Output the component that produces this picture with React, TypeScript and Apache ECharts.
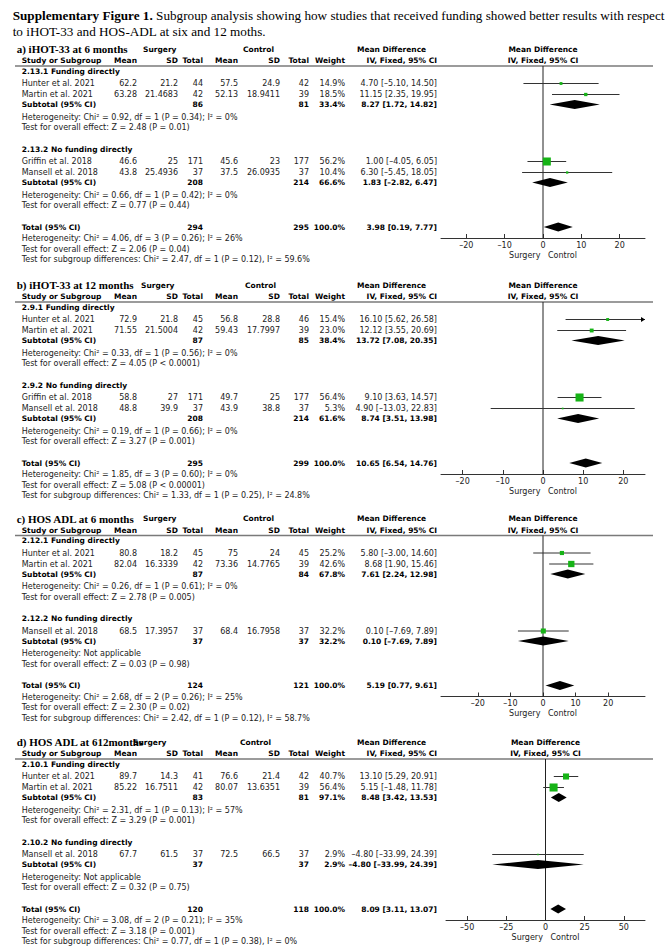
import React, { useEffect, useRef } from "react";
import * as echarts from "echarts";

// ---------- DATA ----------
type Study = [string, number, number, number, number, number, number, number, number, number, number, number];
// name, group, surgery mean, surgery SD, surgery N, control mean, control SD, control N, weight %, MD, lower, upper
type Summary = [number, number, number, number, number, number];
// surgery N, control N, weight %, MD, lower, upper

const titleLine1Bold = "Supplementary Figure 1.";
const titleLine1 = " Subgroup analysis showing how studies that received funding showed better results with respect";
const titleLine2 = "to iHOT-33 and HOS-ADL at six and 12 moths.";

const panelTitles = ["a) iHOT-33 at 6 months", "b) iHOT-33 at 12 months", "c) HOS ADL at 6 months", "d) HOS ADL at 612months"];

const groupNamesA = ["2.13.1 Funding directly", "2.13.2 No funding directly"];
const groupNamesB = ["2.9.1 Funding directly", "2.9.2 No funding directly"];
const groupNamesC = ["2.12.1 Funding directly", "2.12.2 No funding directly"];
const groupNamesD = ["2.10.1 Funding directly", "2.10.2 No funding directly"];

const studiesA: Study[] = [
  ["Hunter et al. 2021", 0, 62.2, 21.2, 44, 57.5, 24.9, 42, 14.9, 4.7, -5.1, 14.5],
  ["Martin et al. 2021", 0, 63.28, 21.4683, 42, 52.13, 18.9411, 39, 18.5, 11.15, 2.35, 19.95],
  ["Griffin et al. 2018", 1, 46.6, 25, 171, 45.6, 23, 177, 56.2, 1.0, -4.05, 6.05],
  ["Mansell et al. 2018", 1, 43.8, 25.4936, 37, 37.5, 26.0935, 37, 10.4, 6.3, -5.45, 18.05],
];
const subtotalsA: Summary[] = [[86, 81, 33.4, 8.27, 1.72, 14.82], [208, 214, 66.6, 1.83, -2.82, 6.47]];
const groupStatsA = [
  ["Heterogeneity: Chi² = 0.92, df = 1 (P = 0.34); I² = 0%", "Test for overall effect: Z = 2.48 (P = 0.01)"],
  ["Heterogeneity: Chi² = 0.66, df = 1 (P = 0.42); I² = 0%", "Test for overall effect: Z = 0.77 (P = 0.44)"],
];
const totalA: Summary = [294, 295, 100, 3.98, 0.19, 7.77];
const totalStatsA = [
  "Heterogeneity: Chi² = 4.06, df = 3 (P = 0.26); I² = 26%",
  "Test for overall effect: Z = 2.06 (P = 0.04)",
  "Test for subgroup differences: Chi² = 2.47, df = 1 (P = 0.12), I² = 59.6%",
];
const ticksA = [-20, -10, 0, 10, 20];

const studiesB: Study[] = [
  ["Hunter et al. 2021", 0, 72.9, 21.8, 45, 56.8, 28.8, 46, 15.4, 16.1, 5.62, 26.58],
  ["Martin et al. 2021", 0, 71.55, 21.5004, 42, 59.43, 17.7997, 39, 23.0, 12.12, 3.55, 20.69],
  ["Griffin et al. 2018", 1, 58.8, 27, 171, 49.7, 25, 177, 56.4, 9.1, 3.63, 14.57],
  ["Mansell et al. 2018", 1, 48.8, 39.9, 37, 43.9, 38.8, 37, 5.3, 4.9, -13.03, 22.83],
];
const subtotalsB: Summary[] = [[87, 85, 38.4, 13.72, 7.08, 20.35], [208, 214, 61.6, 8.74, 3.51, 13.98]];
const groupStatsB = [
  ["Heterogeneity: Chi² = 0.33, df = 1 (P = 0.56); I² = 0%", "Test for overall effect: Z = 4.05 (P < 0.0001)"],
  ["Heterogeneity: Chi² = 0.19, df = 1 (P = 0.66); I² = 0%", "Test for overall effect: Z = 3.27 (P = 0.001)"],
];
const totalB: Summary = [295, 299, 100, 10.65, 6.54, 14.76];
const totalStatsB = [
  "Heterogeneity: Chi² = 1.85, df = 3 (P = 0.60); I² = 0%",
  "Test for overall effect: Z = 5.08 (P < 0.00001)",
  "Test for subgroup differences: Chi² = 1.33, df = 1 (P = 0.25), I² = 24.8%",
];
const ticksB = [-20, -10, 0, 10, 20];

const studiesC: Study[] = [
  ["Hunter et al. 2021", 0, 80.8, 18.2, 45, 75, 24, 45, 25.2, 5.8, -3.0, 14.6],
  ["Martin et al. 2021", 0, 82.04, 16.3339, 42, 73.36, 14.7765, 39, 42.6, 8.68, 1.9, 15.46],
  ["Mansell et al. 2018", 1, 68.5, 17.3957, 37, 68.4, 16.7958, 37, 32.2, 0.1, -7.69, 7.89],
];
const subtotalsC: Summary[] = [[87, 84, 67.8, 7.61, 2.24, 12.98], [37, 37, 32.2, 0.1, -7.69, 7.89]];
const groupStatsC = [
  ["Heterogeneity: Chi² = 0.26, df = 1 (P = 0.61); I² = 0%", "Test for overall effect: Z = 2.78 (P = 0.005)"],
  ["Heterogeneity: Not applicable", "Test for overall effect: Z = 0.03 (P = 0.98)"],
];
const totalC: Summary = [124, 121, 100, 5.19, 0.77, 9.61];
const totalStatsC = [
  "Heterogeneity: Chi² = 2.68, df = 2 (P = 0.26); I² = 25%",
  "Test for overall effect: Z = 2.30 (P = 0.02)",
  "Test for subgroup differences: Chi² = 2.42, df = 1 (P = 0.12), I² = 58.7%",
];
const ticksC = [-20, -10, 0, 10, 20];

const studiesD: Study[] = [
  ["Hunter et al. 2021", 0, 89.7, 14.3, 41, 76.6, 21.4, 42, 40.7, 13.1, 5.29, 20.91],
  ["Martin et al. 2021", 0, 85.22, 16.7511, 42, 80.07, 13.6351, 39, 56.4, 5.15, -1.48, 11.78],
  ["Mansell et al. 2018", 1, 67.7, 61.5, 37, 72.5, 66.5, 37, 2.9, -4.8, -33.99, 24.39],
];
const subtotalsD: Summary[] = [[83, 81, 97.1, 8.48, 3.42, 13.53], [37, 37, 2.9, -4.8, -33.99, 24.39]];
const groupStatsD = [
  ["Heterogeneity: Chi² = 2.31, df = 1 (P = 0.13); I² = 57%", "Test for overall effect: Z = 3.29 (P = 0.001)"],
  ["Heterogeneity: Not applicable", "Test for overall effect: Z = 0.32 (P = 0.75)"],
];
const totalD: Summary = [120, 118, 100, 8.09, 3.11, 13.07];
const totalStatsD = [
  "Heterogeneity: Chi² = 3.08, df = 2 (P = 0.21); I² = 35%",
  "Test for overall effect: Z = 3.18 (P = 0.001)",
  "Test for subgroup differences: Chi² = 0.77, df = 1 (P = 0.38), I² = 0%",
];
const ticksD = [-50, -25, 0, 25, 50];

const panels = [
  { title: panelTitles[0], groups: groupNamesA, studies: studiesA, subtotals: subtotalsA, groupStats: groupStatsA, total: totalA, totalStats: totalStatsA, ticks: ticksA },
  { title: panelTitles[1], groups: groupNamesB, studies: studiesB, subtotals: subtotalsB, groupStats: groupStatsB, total: totalB, totalStats: totalStatsB, ticks: ticksB },
  { title: panelTitles[2], groups: groupNamesC, studies: studiesC, subtotals: subtotalsC, groupStats: groupStatsC, total: totalC, totalStats: totalStatsC, ticks: ticksC },
  { title: panelTitles[3], groups: groupNamesD, studies: studiesD, subtotals: subtotalsD, groupStats: groupStatsD, total: totalD, totalStats: totalStatsD, ticks: ticksD },
];

// ---------- LAYOUT ----------
const SANS = '"DejaVu Sans", Verdana, sans-serif';
const SERIF = '"Liberation Serif", "Times New Roman", serif';
const PANEL_TOP = [49, 285, 518.5, 742];
const AXIS_HALF = [26.6, 25.4, 31.3, 63.5];
const GRID_LEFT = [441, 441, 441, 446];
const GRID_RIGHT = 645;
const SURG_X = [143, 141, 143, 133];
const CTRL_X = [243, 245, 243, 240];
const COL = { name: 21.7, sMean: 137, sSD: 178, sN: 203, cMean: 238, cSD: 280, cN: 309, weight: 345, md: 437, mdHeadLeft: 357 };
const DASH = "\u2013";

const fmt2 = (v: number) => (v < 0 ? DASH : "") + Math.abs(v).toFixed(2);
const mdText = (md: number, lo: number, hi: number) => `${fmt2(md)} [${fmt2(lo)}, ${fmt2(hi)}]`;

function computeLayout(panel: any, top: number) {
  let y = top + 22;
  const groups: any[] = [];
  panel.groups.forEach((_g: string, gi: number) => {
    if (gi > 0) y += 21.5;
    const headY = y;
    const studyYs: { idx: number; y: number }[] = [];
    panel.studies.forEach((s: Study, si: number) => {
      if (s[1] === gi) {
        y += studyYs.length === 0 ? 12.5 : 11;
        studyYs.push({ idx: si, y });
      }
    });
    y += 10;
    const subY = y;
    y += 12.5;
    const hetY = y;
    y += 10.5;
    const testY = y;
    groups.push({ headY, studyYs, subY, hetY, testY });
  });
  y += 21.5;
  const totalY = y;
  const statYs = [y + 11.5, y + 22, y + 32.5];
  return { top, headerY: top + 11.5, lineY: top + 17, groups, totalY, statYs, axisY: totalY + 11 };
}

function txt(text: string, x: number, y: number, o: any = {}) {
  return {
    type: "text",
    x,
    y,
    silent: true,
    style: {
      text,
      fill: o.fill ?? (o.bold ? "#000" : "#222"),
      fontSize: o.size ?? (o.bold ? 7.5 : 8),
      fontFamily: o.family ?? SANS,
      fontWeight: o.bold ? "bold" : "normal",
      align: o.align ?? "left",
      verticalAlign: "middle",
    },
  };
}

function buildOption() {
  const elements: any[] = [];
  const grids: any[] = [];
  const xAxes: any[] = [];
  const yAxes: any[] = [];
  const series: any[] = [];

  elements.push({
    type: "text",
    x: 12.7,
    y: 15.7,
    silent: true,
    style: {
      text: `{b|${titleLine1Bold}}${titleLine1}`,
      fontSize: 13.2,
      fontFamily: SERIF,
      fill: "#000",
      verticalAlign: "middle",
      rich: { b: { fontWeight: "bold", fontSize: 13.2, fontFamily: SERIF, fill: "#000" } },
    },
  });
  elements.push(txt(titleLine2, 12.7, 31.7, { size: 13.2, family: SERIF, fill: "#000" }));

  panels.forEach((panel, p) => {
    const L = computeLayout(panel, PANEL_TOP[p]);
    const zeroX = (GRID_LEFT[p] + GRID_RIGHT) / 2;
    const t = L.top;
    elements.push(txt(panel.title, 16.7, t, { bold: true, size: 11, family: SERIF }));
    elements.push(txt("Surgery", SURG_X[p], t, { bold: true }));
    elements.push(txt("Control", CTRL_X[p], t, { bold: true }));
    elements.push(txt("Mean Difference", COL.mdHeadLeft, t, { bold: true }));
    elements.push(txt("Mean Difference", zeroX, t, { bold: true, align: "center" }));
    const hy = L.headerY;
    elements.push(txt("Study or Subgroup", COL.name, hy, { bold: true }));
    elements.push(txt("Mean", COL.sMean, hy, { bold: true, align: "right" }));
    elements.push(txt("SD", COL.sSD, hy, { bold: true, align: "right" }));
    elements.push(txt("Total", COL.sN, hy, { bold: true, align: "right" }));
    elements.push(txt("Mean", COL.cMean, hy, { bold: true, align: "right" }));
    elements.push(txt("SD", COL.cSD, hy, { bold: true, align: "right" }));
    elements.push(txt("Total", COL.cN, hy, { bold: true, align: "right" }));
    elements.push(txt("Weight", COL.weight, hy, { bold: true, align: "right" }));
    elements.push(txt("IV, Fixed, 95% CI", COL.md, hy, { bold: true, align: "right" }));
    elements.push(txt("IV, Fixed, 95% CI", zeroX, hy, { bold: true, align: "center" }));
    elements.push({
      type: "line",
      silent: true,
      shape: { x1: 15, y1: L.lineY, x2: 653, y2: L.lineY },
      style: { stroke: "#7a7a7a", lineWidth: 1.5 },
    });

    const gridTop = L.lineY;
    const gridH = L.axisY - L.lineY;
    const data: number[][] = [];

    L.groups.forEach((g: any, gi: number) => {
      elements.push(txt(panel.groups[gi], COL.name, g.headY, { bold: true }));
      g.studyYs.forEach(({ idx, y }: any) => {
        const s = panel.studies[idx];
        elements.push(txt(s[0], COL.name, y));
        elements.push(txt(String(s[2]), COL.sMean, y, { align: "right" }));
        elements.push(txt(String(s[3]), COL.sSD, y, { align: "right" }));
        elements.push(txt(String(s[4]), COL.sN, y, { align: "right" }));
        elements.push(txt(String(s[5]), COL.cMean, y, { align: "right" }));
        elements.push(txt(String(s[6]), COL.cSD, y, { align: "right" }));
        elements.push(txt(String(s[7]), COL.cN, y, { align: "right" }));
        elements.push(txt(s[8].toFixed(1) + "%", COL.weight, y, { align: "right" }));
        elements.push(txt(mdText(s[9], s[10], s[11]), COL.md, y, { align: "right" }));
        data.push([s[9], s[10], s[11], y - gridTop, s[8], 0]);
      });
      const sub = panel.subtotals[gi];
      elements.push(txt("Subtotal (95% CI)", COL.name, g.subY, { bold: true }));
      elements.push(txt(String(sub[0]), COL.sN, g.subY, { bold: true, align: "right" }));
      elements.push(txt(String(sub[1]), COL.cN, g.subY, { bold: true, align: "right" }));
      elements.push(txt(sub[2].toFixed(1) + "%", COL.weight, g.subY, { bold: true, align: "right" }));
      elements.push(txt(mdText(sub[3], sub[4], sub[5]), COL.md, g.subY, { bold: true, align: "right" }));
      data.push([sub[3], sub[4], sub[5], g.subY - gridTop, sub[2], 1]);
      elements.push(txt(panel.groupStats[gi][0], COL.name, g.hetY));
      elements.push(txt(panel.groupStats[gi][1], COL.name, g.testY));
    });

    const tot = panel.total;
    elements.push(txt("Total (95% CI)", COL.name, L.totalY, { bold: true }));
    elements.push(txt(String(tot[0]), COL.sN, L.totalY, { bold: true, align: "right" }));
    elements.push(txt(String(tot[1]), COL.cN, L.totalY, { bold: true, align: "right" }));
    elements.push(txt(tot[2].toFixed(1) + "%", COL.weight, L.totalY, { bold: true, align: "right" }));
    elements.push(txt(mdText(tot[3], tot[4], tot[5]), COL.md, L.totalY, { bold: true, align: "right" }));
    data.push([tot[3], tot[4], tot[5], L.totalY - gridTop, tot[2], 1]);
    panel.totalStats.forEach((s: string, i: number) => elements.push(txt(s, COL.name, L.statYs[i])));

    const R = AXIS_HALF[p];
    grids.push({ left: GRID_LEFT[p], width: GRID_RIGHT - GRID_LEFT[p], top: gridTop, height: gridH, containLabel: false, show: false });
    xAxes.push({
      gridIndex: p,
      type: "value",
      min: -R,
      max: R,
      position: "bottom",
      axisLine: { show: true, onZero: false, lineStyle: { color: "#333", width: 1 } },
      axisTick: { show: true, inside: true, length: 4, customValues: panel.ticks, lineStyle: { color: "#333", width: 1 } },
      axisLabel: {
        show: true,
        customValues: panel.ticks,
        formatter: (v: number) => (v < 0 ? DASH + Math.abs(v) : String(v)),
        fontSize: 8,
        fontFamily: SANS,
        color: "#222",
        margin: 3,
      },
      splitLine: { show: false },
      name: "Surgery   Control",
      nameLocation: "middle",
      nameGap: 13,
      nameTextStyle: { fontSize: 8, fontFamily: SANS, color: "#222" },
    });
    yAxes.push({ gridIndex: p, type: "value", min: 0, max: gridH, inverse: true, show: false });

    series.push({
      type: "line",
      xAxisIndex: p,
      yAxisIndex: p,
      data: [[0, 0], [0, gridH]],
      symbol: "none",
      silent: true,
      z: 1,
      lineStyle: { color: "#222", width: 1 },
    });
    series.push({
      type: "custom",
      xAxisIndex: p,
      yAxisIndex: p,
      clip: false,
      silent: true,
      z: 3,
      encode: { x: [0, 1, 2], y: 3 },
      data,
      renderItem: (_params: any, api: any) => {
        const md = api.value(0);
        const lo = api.value(1);
        const hi = api.value(2);
        const yv = api.value(3);
        const w = api.value(4);
        const kind = api.value(5);
        const [xm, y] = api.coord([md, yv]);
        const clo = Math.max(lo, -R);
        const chi = Math.min(hi, R);
        const xl = api.coord([clo, yv])[0];
        const xh = api.coord([chi, yv])[0];
        if (kind === 1) {
          return {
            type: "polygon",
            shape: { points: [[xl, y], [xm, y - 4.5], [xh, y], [xm, y + 4.5]] },
            style: { fill: "#000" },
          };
        }
        const children: any[] = [
          { type: "line", shape: { x1: xl, y1: y, x2: xh, y2: y }, style: { stroke: "#333", lineWidth: 1 } },
        ];
        if (hi > R) {
          children.push({ type: "polygon", shape: { points: [[xh - 4, y - 2.5], [xh, y], [xh - 4, y + 2.5]] }, style: { fill: "#000" } });
        }
        if (lo < -R) {
          children.push({ type: "polygon", shape: { points: [[xl + 4, y - 2.5], [xl, y], [xl + 4, y + 2.5]] }, style: { fill: "#000" } });
        }
        const side = 1 + 0.125 * w;
        children.push({
          type: "rect",
          shape: { x: xm - side / 2, y: y - side / 2, width: side, height: side },
          style: { fill: "#16b316" },
        });
        return { type: "group", children };
      },
    });
  });

  return {
    animation: false,
    backgroundColor: "#fff",
    grid: grids,
    xAxis: xAxes,
    yAxis: yAxes,
    series,
    graphic: { elements },
  };
}

export default function App() {
  const ref = useRef<HTMLDivElement>(null);
  useEffect(() => {
    if (!ref.current) return;
    const chart = echarts.init(ref.current, undefined, { renderer: "svg" });
    chart.setOption(buildOption() as any);
    return () => chart.dispose();
  }, []);
  return (
    <div
      ref={ref}
      style={{ position: "absolute", left: 0, top: 0, width: 671, height: 947, background: "#fff" }}
    />
  );
}
